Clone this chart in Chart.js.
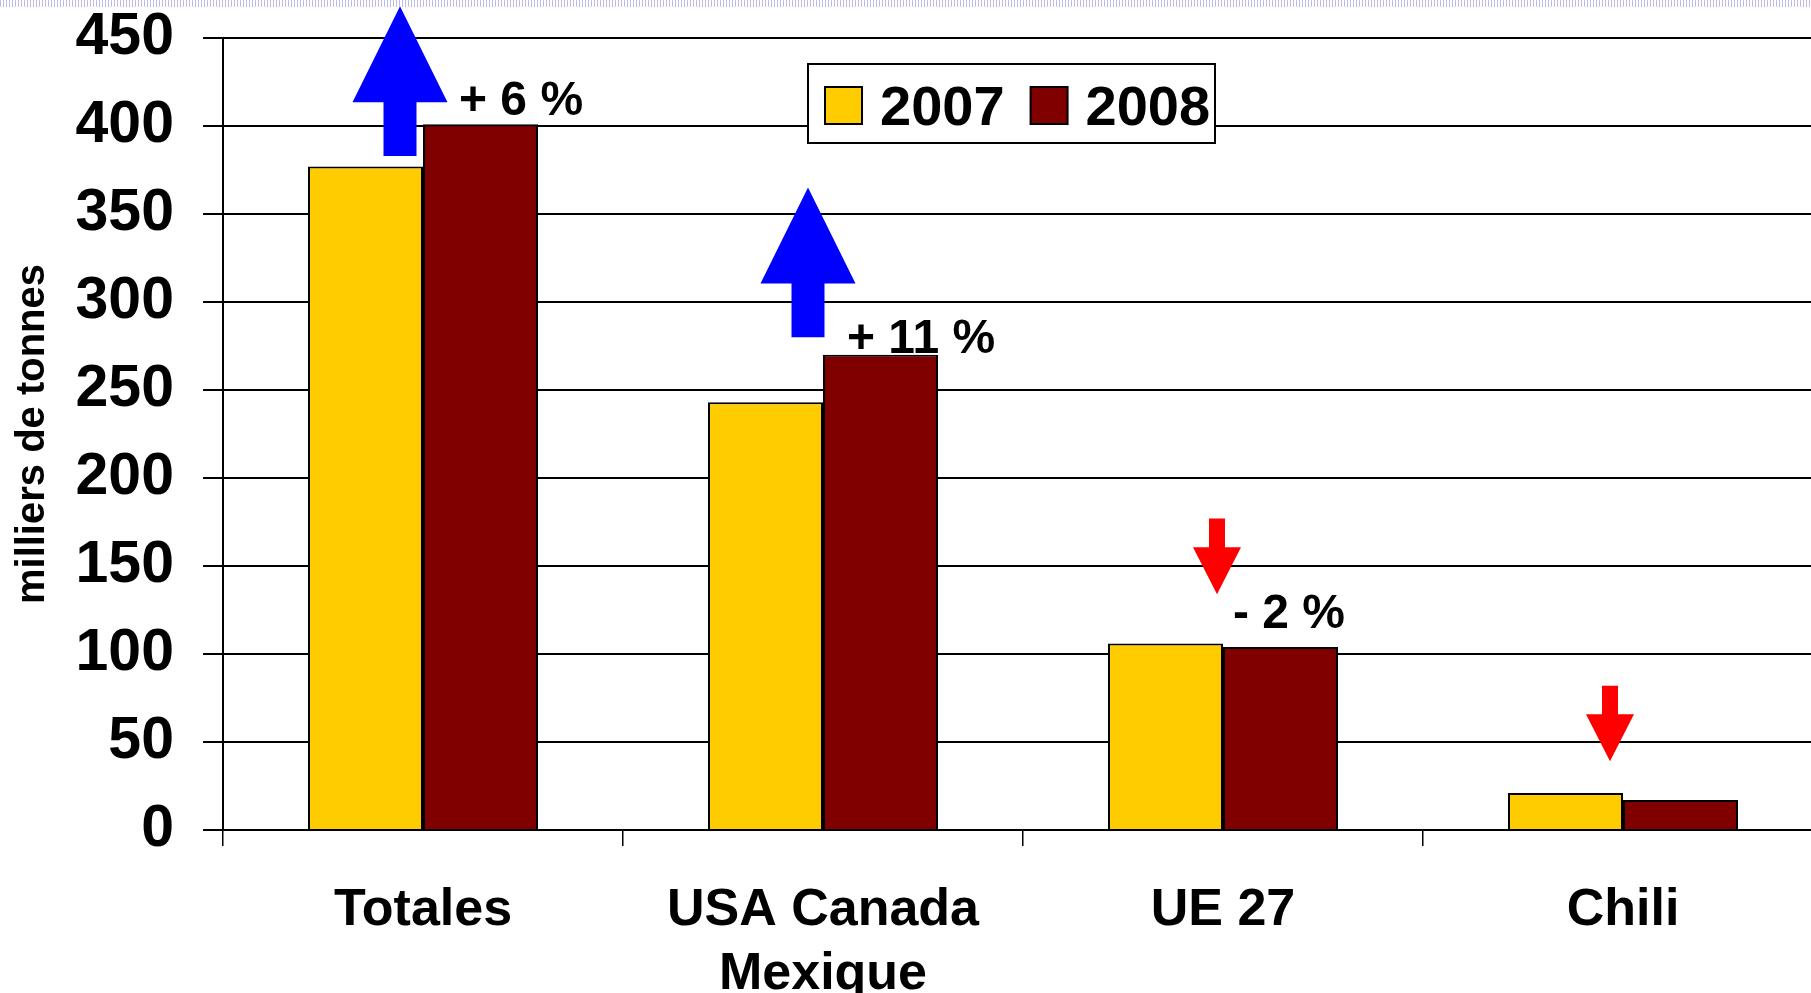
<!DOCTYPE html>
<html>
<head>
<meta charset="utf-8">
<script src="https://cdn.jsdelivr.net/npm/chart.js@4.4.1/dist/chart.umd.min.js"></script>
<style>
    html, body { margin: 0; padding: 0; background: #fff; overflow: hidden; }
    #wrap { position: absolute; left: 0; top: 0; width: 1830px; height: 993px; }
    #strip { position: absolute; left: 0; top: 0; width: 1811px; height: 7px; z-index: 2;
             background: repeating-linear-gradient(90deg, #bcbcee 0 1px, transparent 1px 3px); }
</style>
</head>
<body>
<div id="wrap"><canvas id="chart"></canvas></div>
<div id="strip"></div>
<script>
const categories = ['Totales', ['USA Canada', 'Mexique'], 'UE 27', 'Chili'];
const years = ['2007', '2008'];
const values2007 = [377, 243, 106, 21];
const values2008 = [401, 270, 104, 17];
const changeLabels = ['+ 6 %', '+ 11 %', '- 2 %', ''];

// where the arrows and % labels sit, in milliers de tonnes (y axis units)
const arrowTail = [383, 280, 177, 82];
const arrowTip = [468, 365, 134, 39];
const labelAt = [406, 271, 115, null];
// small horizontal nudges from the category centre, px
const arrowShift = [-23, -15, -6, -13];
const labelShift = [36, 24, 10, 0];

const FONT = '"Liberation Sans", Arial, Helvetica, sans-serif';
Chart.defaults.font.family = FONT;
Chart.defaults.color = '#000';

function drawArrow(ctx, x, yTail, yTip, big, color) {
    const hw = big ? 95 : 48;
    const hl = big ? 96 : 47;
    const sw = big ? 33 : 16;
    const dir = yTip < yTail ? -1 : 1;
    const yBase = yTip - dir * hl;

    ctx.beginPath();
    ctx.moveTo(x - sw / 2, yTail);
    ctx.lineTo(x - sw / 2, yBase);
    ctx.lineTo(x - hw / 2, yBase);
    ctx.lineTo(x, yTip);
    ctx.lineTo(x + hw / 2, yBase);
    ctx.lineTo(x + sw / 2, yBase);
    ctx.lineTo(x + sw / 2, yTail);
    ctx.closePath();
    ctx.fillStyle = color;
    ctx.fill();
}

const arrows = {
    id: 'arrows',
    afterDatasetsDraw(chart) {
        const ctx = chart.ctx;
        const xs = chart.scales.x;
        const ys = chart.scales.y;

        ctx.save();
        ctx.font = 'bold 48px ' + FONT;
        ctx.textAlign = 'left';
        ctx.textBaseline = 'alphabetic';

        categories.forEach(function (c, i) {
            const up = values2008[i] > values2007[i];
            const cx = xs.getPixelForValue(i);
            drawArrow(ctx, cx + arrowShift[i], ys.getPixelForValue(arrowTail[i]),
                ys.getPixelForValue(arrowTip[i]), up, up ? '#0000ff' : '#ff0000');

            if (changeLabels[i]) {
                ctx.fillStyle = '#000';
                ctx.fillText(changeLabels[i], cx + labelShift[i], ys.getPixelForValue(labelAt[i]));
            }
        });
        ctx.restore();
    }
};

const boxLegend = {
    id: 'boxLegend',
    afterDatasetsDraw(chart) {
        const ctx = chart.ctx;
        const area = chart.chartArea;
        const x = area.left + 585;
        const y = area.top + 26;

        ctx.save();
        ctx.fillStyle = '#fff';
        ctx.fillRect(x, y, 407, 79);
        ctx.strokeStyle = '#000';
        ctx.lineWidth = 2;
        ctx.strokeRect(x, y, 407, 79);

        ctx.font = 'bold 56px ' + FONT;
        ctx.textBaseline = 'alphabetic';
        let cx = x + 17;
        chart.data.datasets.forEach(function (ds) {
            ctx.fillStyle = ds.backgroundColor;
            ctx.fillRect(cx, y + 23, 37, 37);
            ctx.strokeRect(cx, y + 23, 37, 37);
            ctx.fillStyle = '#000';
            ctx.fillText(ds.label, cx + 55, y + 61);
            cx += 55 + ctx.measureText(ds.label).width + 26;
        });
        ctx.restore();
    }
};

const config = {
    type: 'bar',
    data: {
        labels: categories,
        datasets: [
            {
                label: years[0],
                data: values2007,
                backgroundColor: '#ffcc00',
                borderColor: '#000',
                borderWidth: 2
            },
            {
                label: years[1],
                data: values2008,
                backgroundColor: '#800000',
                borderColor: '#000',
                borderWidth: 2
            }
        ]
    },
    options: {
        responsive: true,
        maintainAspectRatio: false,
        animation: false,
        categoryPercentage: 0.575,
        barPercentage: 1,
        layout: { padding: { top: 38, right: 7, left: 0, bottom: 0 } },
        plugins: {
            legend: { display: false },
            tooltip: { enabled: false }
        },
        scales: {
            x: {
                afterFit: function (s) { s.height = 163; },
                grid: {
                    offset: true,
                    drawOnChartArea: false,
                    drawTicks: true,
                    tickLength: 16,
                    color: '#000',
                    lineWidth: 1.5
                },
                border: { display: true, color: '#000', width: 2 },
                ticks: {
                    font: { size: 52, weight: 'bold', lineHeight: 1.23 },
                    color: '#000',
                    padding: 33,
                    maxRotation: 0,
                    autoSkip: false
                }
            },
            y: {
                min: 0,
                max: 450,
                afterFit: function (s) {
                    s.width = 223;
                    s.paddingTop = 0;
                    s.paddingBottom = 0;
                },
                grid: {
                    color: '#000',
                    lineWidth: 2,
                    tickLength: 20,
                    tickColor: '#000'
                },
                border: { display: true, color: '#000', width: 2 },
                ticks: {
                    stepSize: 50,
                    font: { size: 59, weight: 'bold' },
                    color: '#000',
                    padding: 29
                },
                title: {
                    display: true,
                    text: 'milliers de tonnes',
                    font: { size: 40, weight: 'bold' },
                    color: '#000',
                    padding: { top: 9, bottom: 0 }
                }
            }
        }
    },
    plugins: [arrows, boxLegend]
};

const chart = new Chart(document.getElementById('chart'), config);
</script>
</body>
</html>
